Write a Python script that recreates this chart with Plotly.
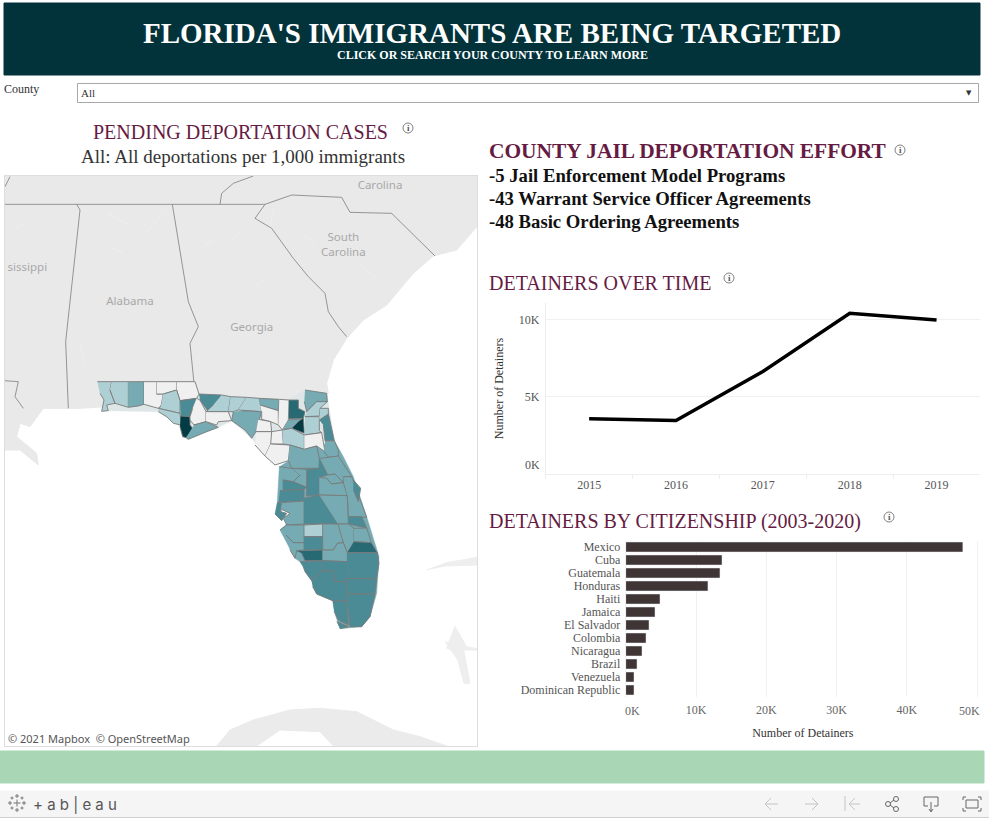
import plotly.graph_objects as go

W, H = 989, 822
SERIF = "Liberation Serif"
SANS = "Noto Sans"

years = ["2015", "2016", "2017", "2018", "2019"]
detainers_by_year = [3585, 3477, 6650, 10430, 10000]

countries = ["Mexico", "Cuba", "Guatemala", "Honduras", "Haiti", "Jamaica", "El Salvador",
             "Colombia", "Nicaragua", "Brazil", "Venezuela", "Dominican Republic"]
detainers_by_country = [47960, 13700, 13410, 11700, 4880, 4170, 3320, 2890, 2320, 1610, 1180, 1180]

effort_lines = ["-5 Jail Enforcement Model Programs",
                "-43 Warrant Service Officer Agreements",
                "-48 Basic Ordering Agreements"]

# shade class of each county (0 = no cases, 4 = highest rate)
shades = ["#f0f0f0", "#aed0d4", "#76abb3", "#4b8b95", "#276a73", "#043c45"]

county_names = ["Escambia", "Santa Rosa", "Okaloosa", "Walton", "Holmes", "Jackson", "Washington", "Bay",
                "Calhoun", "Gulf", "Liberty", "Franklin", "Gadsden", "Leon", "Wakulla", "Jefferson",
                "Madison", "Taylor", "Hamilton", "Suwannee", "Lafayette", "Columbia", "Baker", "Union",
                "Bradford", "Nassau", "Duval", "St. Johns", "Clay", "Beach", "Gilchrist", "Dixie",
                "Levy", "Alachua", "Putnam", "Marion", "Flagler", "Volusia", "Lake", "Citrus",
                "Sumter", "Hernando", "Pasco", "Pinellas", "Hillsborough", "Polk", "Seminole", "Orange",
                "Brevard", "Merritt", "Osceola", "Indian River", "Okeechobee", "St. Lucie", "Martin",
                "Highlands", "Hardee", "Manatee", "Sarasota", "DeSoto", "Charlotte", "Glades", "Lee",
                "Hendry", "Palm Beach", "Broward", "Miami-Dade", "Monroe", "Keys", "Collier"]
county_levels = [1, 1, 2, 0, 0, 0, 1, 1,
                 3, 5, 0, 2, 3, 1, 0, 1,
                 1, 2, 2, 0, 0, 0, 4, 2,
                 5, 2, 1, 3, 1, 1, 0, 0,
                 0, 1, 0, 2, 2, 2, 3, 2,
                 2, 3, 3, 3, 2, 3, 2, 2,
                 2, 3, 2, 3, 2, 2, 4,
                 2, 1, 2, 2, 3, 4, 2, 3,
                 3, 3, 3, 3, 3, 3, 3]
county_shapes = [
    [(292, 35), (335, 35), (330, 60), (345, 100), (320, 105), (325, 122), (305, 124), (312, 90), (300, 70)],
    [(335, 35), (385, 35), (385, 112), (345, 100), (330, 60)],
    [(385, 35), (432, 35), (432, 103), (415, 108), (385, 112)],
    [(432, 35), (470, 35), (470, 72), (490, 72), (483, 108), (475, 115), (432, 103)],
    [(470, 35), (530, 35), (530, 60), (490, 72), (470, 72)],
    [(530, 35), (585, 35), (597, 72), (590, 85), (540, 92), (530, 60)],
    [(490, 72), (530, 60), (540, 92), (540, 130), (475, 115), (483, 108)],
    [(475, 115), (540, 130), (544, 165), (520, 160), (500, 140), (475, 125)],
    [(540, 92), (590, 85), (578, 115), (570, 140), (542, 138)],
    [(542, 138), (570, 140), (570, 165), (582, 180), (558, 203), (548, 200), (540, 170)],
    [(590, 85), (600, 90), (618, 125), (618, 155), (582, 165), (570, 150), (570, 140), (578, 115)],
    [(582, 165), (618, 155), (655, 172), (620, 185), (565, 208), (558, 203)],
    [(597, 72), (665, 75), (655, 90), (625, 125), (600, 90)],
    [(665, 75), (692, 80), (685, 125), (618, 125), (640, 105)],
    [(618, 125), (685, 125), (695, 152), (655, 155), (650, 165), (618, 155)],
    [(692, 80), (740, 82), (715, 120), (700, 125), (685, 125)],
    [(740, 82), (778, 85), (785, 125), (725, 122), (715, 120)],
    [(725, 122), (785, 125), (768, 185), (755, 205), (735, 180), (695, 152), (700, 125)],
    [(778, 85), (838, 88), (835, 122), (795, 110), (780, 105)],
    [(780, 105), (795, 110), (835, 122), (835, 165), (812, 155), (785, 148), (785, 125)],
    [(775, 148), (812, 155), (815, 185), (768, 185)],
    [(838, 88), (867, 90), (865, 150), (847, 180), (835, 165)],
    [(867, 90), (895, 90), (895, 115), (915, 125), (910, 145), (867, 147)],
    [(865, 150), (905, 147), (875, 175), (850, 178)],
    [(910, 145), (913, 190), (875, 175), (895, 155)],
    [(915, 60), (980, 70), (982, 95), (950, 95), (920, 125), (913, 95)],
    [(920, 125), (950, 95), (982, 95), (960, 115), (958, 138), (915, 140)],
    [(958, 150), (985, 130), (1003, 212), (975, 212), (970, 165)],
    [(915, 140), (958, 140), (958, 182), (965, 188), (913, 195)],
    [(960, 115), (985, 115), (985, 132), (958, 150)],
    [(815, 185), (847, 180), (850, 222), (812, 222)],
    [(768, 185), (815, 185), (812, 222), (795, 258), (765, 225)],
    [(812, 222), (870, 225), (865, 272), (825, 285), (795, 258)],
    [(847, 180), (875, 175), (913, 195), (913, 238), (870, 225), (850, 222)],
    [(913, 195), (965, 188), (975, 245), (950, 228), (913, 238)],
    [(870, 225), (913, 238), (950, 228), (958, 265), (957, 295), (875, 295), (865, 272)],
    [(975, 212), (1003, 212), (1015, 240), (1015, 258), (985, 262), (972, 245)],
    [(960, 265), (985, 262), (1015, 258), (1055, 320), (1030, 320), (1030, 338), (1005, 312), (983, 315)],
    [(958, 265), (983, 315), (958, 322), (958, 375), (920, 378), (920, 298), (957, 295)],
    [(838, 290), (875, 295), (900, 315), (880, 335), (848, 330)],
    [(875, 295), (920, 298), (920, 352), (900, 345), (880, 335), (900, 315)],
    [(848, 330), (880, 335), (920, 352), (912, 358), (848, 362)],
    [(840, 362), (912, 358), (912, 393), (836, 397)],
    [(832, 397), (845, 400), (840, 425), (860, 430), (845, 452), (825, 432)],
    [(845, 398), (912, 393), (912, 462), (860, 465), (850, 445), (870, 430), (845, 418)],
    [(912, 385), (958, 375), (1014, 462), (912, 462)],
    [(983, 315), (1005, 312), (1030, 338), (995, 342), (980, 325)],
    [(958, 322), (980, 325), (995, 342), (1030, 338), (1042, 377), (958, 375)],
    [(1030, 320), (1055, 320), (1100, 442), (1045, 440), (1042, 377)],
    [(1060, 330), (1082, 355), (1075, 395), (1060, 360)],
    [(958, 375), (1042, 377), (1045, 462), (1014, 462)],
    [(1045, 440), (1085, 440), (1100, 474), (1045, 462)],
    [(1014, 462), (1045, 462), (1062, 475), (1062, 515), (1042, 548), (1030, 518), (1005, 465)],
    [(1062, 475), (1100, 474), (1114, 518), (1062, 515)],
    [(1062, 515), (1114, 518), (1132, 548), (1042, 548)],
    [(968, 462), (1014, 462), (1030, 518), (1012, 520), (1000, 540), (968, 540)],
    [(912, 465), (968, 462), (968, 500), (912, 500)],
    [(840, 480), (860, 465), (912, 465), (912, 518), (880, 518), (858, 495)],
    [(858, 495), (880, 518), (912, 518), (912, 540), (890, 542), (885, 565), (870, 540)],
    [(912, 500), (968, 500), (968, 540), (912, 540)],
    [(890, 542), (968, 540), (968, 572), (915, 572), (905, 550)],
    [(968, 540), (1000, 540), (1012, 520), (1030, 518), (1042, 548), (1042, 575), (968, 572)],
    [(900, 575), (968, 572), (965, 603), (935, 632), (915, 605), (910, 590)],
    [(968, 572), (1042, 575), (1042, 635), (1003, 635), (1000, 603), (965, 603)],
    [(1042, 548), (1132, 548), (1137, 580), (1130, 626), (1042, 626)],
    [(1042, 626), (1130, 626), (1125, 672), (1042, 672)],
    [(1042, 672), (1125, 672), (1110, 740), (1085, 770), (1050, 770), (1045, 722)],
    [(998, 692), (1042, 692), (1045, 765), (1015, 750), (1003, 725)],
    [(1010, 755), (1045, 770), (1020, 776)],
    [(935, 632), (965, 603), (1000, 603), (1003, 635), (1042, 635), (1042, 692), (998, 692), (950, 672), (938, 650)],
]

# background map outlines
land_main = [(12, -582), (1431, -582), (1431, -430), (1370, -360), (1300, -342), (1240, -290), (1160, -195),
             (1090, -150), (1040, -95), (1000, -30), (980, 40), (985, 70), (700, 130), (320, 110), (240, 115),
             (130, 115), (90, 170), (60, 160), (50, 200), (110, 250), (115, 285), (60, 240), (12, 240)]
land_cuba = [(650, 1128), (690, 1080), (760, 1050), (870, 1020), (960, 1015), (1070, 1025), (1180, 1080),
             (1260, 1100), (1340, 1128), (1000, 1128), (960, 1085), (840, 1080), (770, 1128)]
land_bahamas_a = [(1335, 815), (1390, 835), (1410, 940), (1392, 940), (1375, 875)]
land_bahamas_b = [(1280, 600), (1340, 578), (1431, 562), (1431, 585), (1345, 588)]
land_bahamas_c = [(1340, 835), (1365, 770), (1400, 830), (1431, 836), (1431, 840), (1350, 840)]
lake_lines = [
    [(320, -472), (385, -435)], [(430, -405), (500, -480)], [(50, -425), (80, -440)],
    [(610, -370), (640, -390)], [(685, -385), (730, -420)], [(330, -370), (370, -350)],
    [(765, -250), (790, -270)], [(820, -480), (810, -420)], [(905, -410), (945, -380)],
    [(1085, -310), (1135, -270)], [(240, -80), (255, -10)],
]
border_lines = [
    [(12, -497), (795, -497), (875, -525), (1025, -518), (1050, -473), (1175, -470), (1305, -342)],
    [(660, -497), (665, -530), (700, -560), (760, -582)],
    [(230, -497), (240, -480), (197, -85), (205, 115)],
    [(517, -497), (565, -205), (595, -130), (570, -80), (585, 70)],
    [(795, -497), (765, -455), (815, -425), (880, -335), (925, -280), (975, -230), (985, -175), (1015, -130), (1040, -100)],
    [(12, 32), (55, 35), (45, 80), (70, 115)],
    [(15, -550), (30, -580)],
]
# filler under the counties so that the drawn outlines leave no white slits
base_north = [(292, 35), (585, 35), (597, 72), (860, 90), (915, 60), (980, 70), (1003, 212), (870, 225),
              (865, 272), (825, 285), (795, 258), (755, 205), (695, 152), (655, 172), (565, 208), (540, 170),
              (475, 125), (325, 122), (300, 70)]
base_south = [(865, 272), (958, 228), (1003, 212), (1030, 260), (1060, 320), (1100, 440), (1137, 560),
              (1130, 670), (1110, 740), (1085, 770), (1020, 776), (1003, 725), (998, 692), (950, 672),
              (935, 632), (900, 575), (885, 565), (840, 480), (858, 465), (870, 430), (845, 418), (845, 452),
              (825, 432), (832, 397), (838, 290)]
map_labels = ["Carolina", "South<br>Carolina", "sissippi", "Alabama", "Georgia"]
map_label_x = [1140, 1030, 82, 390, 755]
map_label_y = [-553, -372, -305, -205, -127]


def px(x):
    return x / W


def py(y):
    return 1 - y / H


def rect(x0, y0, x1, y1, fill, line=None):
    return dict(type="rect", xref="paper", yref="paper", x0=px(x0), x1=px(x1), y0=py(y0), y1=py(y1),
                fillcolor=fill, line=dict(color=line or fill, width=1), layer="below")


def seg(x0, y0, x1, y1, color="#777777", width=1):
    return dict(type="line", xref="paper", yref="paper", x0=px(x0), x1=px(x1), y0=py(y0), y1=py(y1),
                line=dict(color=color, width=width))


def circle(cx, cy, r, color="#777777"):
    return dict(type="circle", xref="paper", yref="paper", x0=px(cx - r), x1=px(cx + r), y0=py(cy - r), y1=py(cy + r),
                line=dict(color=color, width=1))


annots = []


def text(x, y, s, size, color="#333333", family=SERIF, anchor="left"):
    annots.append(dict(x=px(x), y=py(y), xref="paper", yref="paper", text=s, showarrow=False, xanchor=anchor,
                       yanchor="middle", align=anchor, font=dict(size=size, color=color, family=family),
                       borderpad=0))


def info_icon(x, y):
    shapes.append(circle(x, y, 5, "#808080"))
    text(x, y, "<b>i</b>", 9, "#555555", anchor="center")


def poly(pts, fill, line_color, width, name=None):
    fig.add_trace(go.Scatter(x=[p[0] for p in pts], y=[p[1] for p in pts], mode="lines", fill="toself",
                             fillcolor=fill, line=dict(color=line_color, width=width), name=name,
                             hoverinfo="name" if name else "skip", xaxis="x", yaxis="y", showlegend=False))


def polyline(pts, color, width):
    fig.add_trace(go.Scatter(x=[p[0] for p in pts], y=[p[1] for p in pts], mode="lines",
                             line=dict(color=color, width=width), hoverinfo="skip",
                             xaxis="x", yaxis="y", showlegend=False))


fig = go.Figure()

# map
poly(land_main, "#e9e9e9", "#e9e9e9", 1)
poly(land_cuba, "#ebebeb", "#ebebeb", 1)
for pts in [land_bahamas_a, land_bahamas_b, land_bahamas_c]:
    poly(pts, "#eeeeee", "#eeeeee", 1)
for pts in lake_lines:
    polyline(pts, "#efefef", 1)
for pts in border_lines:
    polyline(pts, "#7d7d7d", 0.8)
poly(base_north, "#dfe6e7", "#dfe6e7", 0.5)
poly(base_south, "#76abb3", "#76abb3", 0.5)
for name, level, pts in zip(county_names, county_levels, county_shapes):
    poly(pts, shades[level], "#7a7a7a", 0.9, name)
fig.add_trace(go.Scatter(x=map_label_x, y=map_label_y, mode="text", text=map_labels,
                         textfont=dict(family=SANS, size=11.5, color="#a8a8a8"), hoverinfo="skip",
                         xaxis="x", yaxis="y", showlegend=False))

# detainers over time
fig.add_trace(go.Scatter(x=years, y=detainers_by_year, mode="lines", line=dict(color="black", width=3.5),
                         xaxis="x2", yaxis="y2", showlegend=False))

# detainers by citizenship
fig.add_trace(go.Bar(x=detainers_by_country, y=countries, orientation="h", marker_color="#3f3534",
                     xaxis="x3", yaxis="y3", showlegend=False))

shapes = [
    rect(4, 3, 980, 75, "#02333b"),
    rect(77.5, 83.5, 978.5, 102.5, "white", "#a8a8a8"),
    rect(0, 751, 984, 783, "#a9d7b5"),
    rect(0, 791, 989, 817, "#f5f5f5"),
    seg(0, 817.5, 989, 817.5, "#cfcfcf"),
]

# header and filter
text(492, 33, "<b>FLORIDA'S IMMIGRANTS ARE BEING TARGETED</b>", 29, "white", anchor="center")
text(492, 55, "<b>CLICK OR SEARCH YOUR COUNTY TO LEARN MORE</b>", 12, "white", anchor="center")
text(3, 89, "County", 12, "#333333")
text(80, 93, "All", 11, "#333333")
text(969, 93, "▼", 7, "#333333", family="DejaVu Sans", anchor="center")

# section headings
PURPLE = "#661b43"
text(240, 132, "PENDING DEPORTATION CASES", 20, PURPLE, anchor="center")
text(243, 156, "All: All deportations per 1,000 immigrants", 19, "#333333", anchor="center")
info_icon(408, 128)
text(488, 151, "<b>COUNTY JAIL DEPORTATION EFFORT</b>", 21.4, PURPLE)
info_icon(900, 150)
for i, line in enumerate(effort_lines):
    text(488, 175.5 + 23 * i, "<b>" + line + "</b>", 18.7, "#111111")
text(488, 283, "DETAINERS OVER TIME", 20, PURPLE)
info_icon(729, 278)
text(488, 521, "DETAINERS BY CITIZENSHIP (2003-2020)", 20, PURPLE)
info_icon(889, 517)

# tick labels Tableau nudges inside the pane
text(540.5, 465, "0K", 12, "#555555", anchor="right")
text(632.5, 711, "0K", 12, "#666666", anchor="center")
text(969, 711, "50K", 12, "#666666", anchor="center")

# attribution
text(7, 738, "© 2021 Mapbox  © OpenStreetMap", 11, "#555555", family=SANS)

# footer logo and toolbar
text(32, 804, "+ a b | e a u", 15, "#555555", family="Inter")
for cx, cy, s in [(17, 803, 3.5), (17, 796, 2), (17, 810, 2), (10, 803, 2), (24, 803, 2), (12, 798, 1.5), (22, 798, 1.5), (12, 808, 1.5), (22, 808, 1.5)]:
    shapes.append(seg(cx - s, cy, cx + s, cy, "#777777"))
    shapes.append(seg(cx, cy - s, cx, cy + s, "#777777"))
GREY = "#c4c4c4"
shapes += [seg(765, 804, 778, 804, GREY), seg(765, 804, 771, 798, GREY), seg(765, 804, 771, 810, GREY),
           seg(805, 804, 818, 804, GREY), seg(818, 804, 812, 798, GREY), seg(818, 804, 812, 810, GREY),
           seg(845, 796, 845, 811, GREY), seg(849, 804, 860, 804, GREY), seg(849, 804, 855, 798, GREY), seg(849, 804, 855, 810, GREY)]
DARK = "#666666"
shapes += [circle(896, 799, 2.5, DARK), circle(888, 804, 2.5, DARK), circle(896, 809, 2.5, DARK),
           seg(890, 803, 894, 800, DARK), seg(890, 805, 894, 808, DARK)]
shapes += [seg(924, 797, 938, 797, DARK), seg(924, 797, 924, 806, DARK), seg(938, 797, 938, 806, DARK),
           seg(924, 806, 928, 806, DARK), seg(934, 806, 938, 806, DARK), seg(931, 802, 931, 811, DARK),
           seg(929, 809, 931, 812, DARK), seg(933, 809, 931, 812, DARK)]
shapes += [rect(966, 800, 978, 808, "rgba(0,0,0,0)", DARK)]
shapes[-1]["layer"] = "above"
for a, b in [(963, 797), (981, 797), (963, 811), (981, 811)]:
    dx = 3 if a < 972 else -3
    dy = 3 if b < 804 else -3
    shapes += [seg(a, b, a + dx, b, DARK), seg(a, b, a, b + dy, DARK)]

fig.update_layout(
    width=W, height=H, margin=dict(l=0, r=0, t=0, b=0), autosize=False,
    paper_bgcolor="white", plot_bgcolor="white", shapes=shapes, annotations=annots,
    font=dict(family=SERIF, size=12, color="#555555"), bargap=0.23,
    xaxis=dict(domain=[px(4.5), px(477)], range=[13.5, 1431], showticklabels=False, ticks="",
               showgrid=False, zeroline=False, showline=True, mirror=True, linecolor="#dddddd"),
    yaxis=dict(domain=[py(746), py(176)], range=[1128, -582], showticklabels=False, ticks="",
               showgrid=False, zeroline=False, showline=True, mirror=True, linecolor="#dddddd"),
    xaxis2=dict(domain=[px(545.7), px(980)], type="category", range=[-0.5, 4.5], anchor="y2", showgrid=False,
                zeroline=False, showline=True, linecolor="#eeeeee", ticks="outside", ticklen=4,
                tickcolor="#eeeeee", tickson="boundaries", tickfont=dict(size=12, color="#555555")),
    yaxis2=dict(domain=[py(474), py(303)], range=[0, 11100], anchor="x2", tickvals=[0, 5000, 10000],
                ticktext=["", "5K", "10K"], gridcolor="#f1f1f1", zeroline=False, showline=True,
                linecolor="#eeeeee", ticks="outside", ticklen=3, tickcolor="white",
                tickfont=dict(size=12, color="#555555"),
                title=dict(text="Number of Detainers", font=dict(size=12, color="#333333"), standoff=12)),
    xaxis3=dict(domain=[px(625.7), px(980)], range=[0, 50400], anchor="y3", tickvals=[0, 10000, 20000, 30000, 40000, 50000],
                ticktext=["", "10K", "20K", "30K", "40K", ""], gridcolor="#f1f1f1", zeroline=False, showline=False,
                ticks="outside", ticklen=2, tickcolor="white", tickfont=dict(size=12, color="#666666"),
                title=dict(text="Number of Detainers", font=dict(size=12, color="#333333"), standoff=12)),
    yaxis3=dict(domain=[py(696.5), py(540.5)], type="category", range=[11.5, -0.5], anchor="x3", showgrid=False,
                tickmode="array", tickvals=countries, ticktext=countries,
                tickfont=dict(size=12, color="#555555"), zeroline=False, showline=True, linecolor="#eeeeee",
                ticks="outside", ticklen=2, tickcolor="white"),
)

fig.write_html("out.html", config=dict(displayModeBar=False),
               post_script="document.body.style.margin='0';document.body.style.overflow='hidden';")
